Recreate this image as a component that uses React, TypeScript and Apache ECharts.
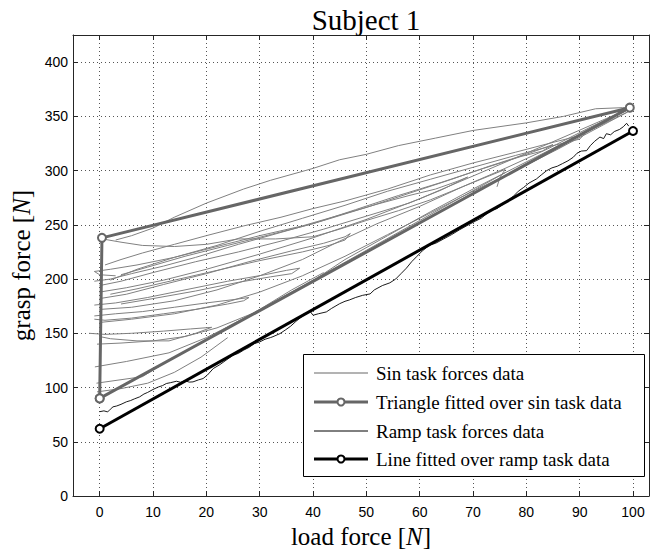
import React, { useEffect, useRef } from "react";
import * as echarts from "echarts";

const xTicks = [0, 10, 20, 30, 40, 50, 60, 70, 80, 90, 100];
const yTicks = [0, 50, 100, 150, 200, 250, 300, 350, 400];

const triangleFit = [[0, 90], [0.43, 238], [99.4, 358], [0, 90]];
const rampFit = [[0, 62], [100, 336.5]];

const rampData = [
  [0, 77.7], [0.8, 78.5], [1.5, 77.5], [2, 80], [2.5, 82.2], [3.2, 83], [4, 84.5], [5, 86.8], [5.8, 88], [6.5, 89.5],
  [7.5, 91.4], [8.3, 94], [9, 95.5], [10, 98.2], [11, 100.5], [11.8, 101.8], [12.5, 103.7], [13.3, 104.5], [14.4, 105.8],
  [15.2, 104.8], [16, 106.2], [16.8, 105], [17.5, 105.2], [18.5, 107], [19.4, 108.3], [20.2, 111.5], [21.3, 117.5],
  [22.5, 121], [23.5, 124.5], [25, 129.8], [26, 131.5], [27, 134.5], [28, 137], [29, 140.5], [30, 142], [31, 144.5],
  [32, 146], [32.5, 146.9], [33.8, 149.7], [34.8, 153], [35.8, 156.5], [36.8, 161], [37.8, 165], [38.8, 168.1],
  [39.5, 170], [40, 166.6], [41, 168], [42.5, 169.7], [43.5, 173], [45, 177.3], [46, 179.5], [46.8, 180.7], [48, 183],
  [49.3, 185], [50.7, 186.3], [51.5, 190], [53, 194], [54.4, 196.5], [55.5, 200], [56.5, 205], [57.5, 210], [58.5, 216],
  [59.5, 221], [60.5, 226], [61.9, 231.4], [63, 233], [64.5, 237], [66, 241], [67.5, 245.5], [69.4, 250.7], [70.5, 253.5],
  [71.5, 256], [72.5, 259.9], [73.5, 263.5], [74.5, 265], [75.5, 268.5], [76.5, 272], [77.5, 276], [78.5, 281],
  [79.5, 284.5], [80.5, 288.5], [81.9, 292.3], [82.8, 296], [83.8, 299.9], [84.8, 302.5], [85.8, 304], [86.8, 306.5],
  [87.8, 309], [88.8, 312.3], [89.5, 316], [90.3, 318], [91.3, 318.4], [92, 323], [92.8, 327], [93.8, 330.9],
  [94.5, 329.5], [95, 334], [95.8, 333], [96.5, 336], [97.5, 338], [98.2, 340.5], [98.8, 343.6], [99.2, 341],
];

const sinTrial01 = [[3, 236], [6, 240], [10, 247], [14, 257], [20, 270], [27, 283], [32, 291], [40, 302], [45, 310], [50, 315], [56, 323], [63, 330], [70, 337], [80, 344], [87, 350], [93, 357], [98, 358], [99.4, 358]];
const sinTrial02 = [[0.5, 237], [4, 234], [8, 231], [14, 230], [20, 232], [26, 237], [33, 237], [40, 239], [45, 246], [50, 254], [56, 263], [62, 273], [68, 285], [73, 295], [76, 301], [75, 293], [74.5, 285]];
const sinTrial03 = [[1, 213], [4, 218], [8, 224], [14, 232], [20, 240], [27, 249], [34, 257], [40, 265], [46, 272], [54, 283], [62, 296], [70, 307], [78, 317], [85, 326], [89, 331], [91, 334], [90, 329], [85, 323], [78, 314], [70, 303], [62, 292], [54, 281], [46, 268], [38, 256], [30, 244], [22, 231], [14, 220], [7, 213], [2, 209], [-1, 207], [0, 204], [3, 203]];
const sinTrial04 = [[-1, 198], [2, 200], [6, 205], [12, 212], [18, 220], [26, 232], [34, 243], [42, 254], [50, 266], [58, 279], [66, 292], [73, 304], [80, 315], [85, 324], [83, 318], [79, 313], [72, 302], [64, 289], [56, 277], [48, 264], [40, 251], [32, 241], [24, 231], [16, 221], [9, 211], [4, 204]];
const sinTrial05 = [[0, 194], [4, 198], [10, 206], [18, 216], [26, 225], [34, 235], [42, 246], [50, 258], [58, 270], [64, 282], [69, 294], [67, 290], [63, 283], [58, 277], [52, 269], [45, 259], [38, 249], [30, 240], [22, 230], [14, 220], [7, 209], [2, 199]];
const sinTrial06 = [[0, 188], [5, 192], [12, 199], [20, 209], [30, 223], [40, 238], [50, 255], [60, 274], [70, 295], [80, 316], [88, 333], [95, 348], [99, 356]];
const sinTrial07 = [[0, 182], [5, 186], [12, 195], [20, 205], [28, 216], [36, 226], [42, 233], [46, 239], [47, 242], [46, 236], [43, 231], [38, 225], [30, 217], [22, 208], [14, 199], [7, 191], [2, 186]];
const sinTrial08 = [[-1, 176], [3, 178], [9, 183], [16, 190], [24, 198], [31, 204], [35, 208], [37.5, 210], [36, 205], [32, 202], [26, 197], [18, 189], [10, 182], [4, 177]];
const sinTrial09 = [[0, 172], [6, 174], [14, 180], [22, 190], [30, 203], [38, 218], [45, 235], [52, 251], [60, 267], [68, 285], [76, 302], [84, 320], [92, 340], [99, 356]];
const sinTrial10 = [[-1, 166], [3, 168], [8, 170], [14, 174], [20, 178], [25, 181], [28, 183], [27, 180], [24, 177], [18, 172], [12, 168], [6, 164], [1, 162], [-1, 163]];
const sinTrial11 = [[0, 160], [6, 163], [14, 168], [22, 176], [30, 188], [38, 203], [46, 221], [54, 241], [62, 261], [70, 281], [78, 300], [86, 320], [94, 341], [99, 354]];
const sinTrial12 = [[-2, 150], [1, 149], [6, 150], [12, 152], [17, 154], [21, 155.5], [18, 150], [13, 143], [7, 143], [2, 145], [0, 147]];
const sinTrial13 = [[-0.5, 140], [4, 141], [10, 143], [16, 147], [22, 155], [30, 171], [38, 192], [46, 218], [54, 240], [62, 262], [70, 283], [78, 303], [86, 323], [94, 342], [99, 354]];
const sinTrial14 = [[-0.9, 119], [5, 124], [13, 132], [20, 146], [28, 166], [36, 188], [44, 210], [52, 232], [60, 254], [68, 276], [76, 298]];
const sinTrial15 = [[-0.6, 104], [8, 110], [13, 125], [18, 138], [24, 156], [30, 172], [36, 190], [42, 206]];
const sinTrial16 = [[-0.5, 96], [4, 99], [9, 104], [14, 114], [19, 128], [24, 146]];

const sinTrials = [
  sinTrial01, sinTrial02, sinTrial03, sinTrial04, sinTrial05, sinTrial06, sinTrial07, sinTrial08,
  sinTrial09, sinTrial10, sinTrial11, sinTrial12, sinTrial13, sinTrial14, sinTrial15, sinTrial16,
];

const legendLabels = [
  "Sin task forces data",
  "Triangle fitted over sin task data",
  "Ramp task forces data",
  "Line fitted over ramp task data",
];

const SERIF = "'Liberation Serif', 'DejaVu Serif', serif";
const SANS = "'Liberation Sans', Arial, sans-serif";

export default function App() {
  const ref = useRef<HTMLDivElement>(null);

  useEffect(() => {
    if (!ref.current) return;
    const chart = echarts.init(ref.current, undefined, { renderer: "svg" });

    const axisColor = "#262626";
    const gridLine = { show: true, lineStyle: { type: [1, 3], color: "#555", width: 1 } };

    const sinSeries = sinTrials.map((d) => ({
      type: "line",
      name: legendLabels[0],
      data: d,
      showSymbol: false,
      symbol: "none",
      silent: true,
      z: 2,
      lineStyle: { color: "#808080", width: 1 },
    }));

    const legendRows = [373, 402, 431, 459];
    const legendStyles = [
      { color: "#9a9a9a", width: 1.5, marker: false },
      { color: "#666666", width: 3, marker: true },
      { color: "#000000", width: 1, marker: false },
      { color: "#000000", width: 3, marker: true },
    ];
    const legendGraphics: any[] = [
      {
        type: "rect",
        shape: { x: 303.5, y: 354.5, width: 341, height: 122 },
        style: { fill: "#fff", stroke: "#000", lineWidth: 1 },
        z: 10,
      },
    ];
    legendRows.forEach((y, i) => {
      const s = legendStyles[i];
      legendGraphics.push({
        type: "line",
        shape: { x1: 314, y1: y, x2: 368, y2: y },
        style: { stroke: s.color, lineWidth: s.width },
        z: 11,
      });
      if (s.marker) {
        legendGraphics.push({
          type: "circle",
          shape: { cx: 341, cy: y, r: 3.5 },
          style: { fill: "#fff", stroke: s.color, lineWidth: 2 },
          z: 12,
        });
      }
      legendGraphics.push({
        type: "text",
        x: 376,
        y: y,
        style: {
          text: legendLabels[i],
          fill: "#000",
          font: `19px ${SERIF}`,
          verticalAlign: "middle",
          align: "left",
        },
        z: 12,
      });
    });

    const option: any = {
      animation: false,
      backgroundColor: "#fff",
      title: {
        text: "Subject 1",
        left: 361,
        top: 0,
        textAlign: "center",
        textStyle: { fontFamily: SERIF, fontSize: 29, fontWeight: "normal", color: "#000" },
      },
      grid: { left: 73, right: 7, top: 35, bottom: 59, containLabel: false },
      xAxis: [
        {
          type: "value",
          min: -5,
          max: 103,
          position: "bottom",
          axisLine: { show: true, onZero: false, lineStyle: { color: axisColor, width: 1 } },
          axisTick: { show: true, inside: true, length: 5, customValues: xTicks, lineStyle: { color: axisColor } },
          axisLabel: { customValues: xTicks, fontFamily: SANS, fontSize: 14, color: "#000", margin: 9 },
          splitLine: gridLine,
          name: "{a|load force [}{b|N}{a|]}",
          nameLocation: "middle",
          nameGap: 28,
          nameTextStyle: {
            rich: {
              a: { fontFamily: SERIF, fontSize: 25, color: "#000" },
              b: { fontFamily: SERIF, fontSize: 25, fontStyle: "italic", color: "#000" },
            },
          },
        },
        {
          type: "value",
          min: -5,
          max: 103,
          position: "top",
          axisLine: { show: true, onZero: false, lineStyle: { color: axisColor, width: 1 } },
          axisTick: { show: true, inside: true, length: 5, customValues: xTicks, lineStyle: { color: axisColor } },
          axisLabel: { show: false },
          splitLine: { show: false },
        },
      ],
      yAxis: [
        {
          type: "value",
          min: 0,
          max: 425,
          position: "left",
          axisLine: { show: true, onZero: false, lineStyle: { color: axisColor, width: 1 } },
          axisTick: { show: true, inside: true, length: 5, customValues: yTicks, lineStyle: { color: axisColor } },
          axisLabel: { customValues: yTicks, fontFamily: SANS, fontSize: 14, color: "#000", margin: 5 },
          splitLine: gridLine,
          name: "{a|grasp force [}{b|N}{a|]}",
          nameLocation: "middle",
          nameRotate: 90,
          nameGap: 39,
          nameTextStyle: {
            rich: {
              a: { fontFamily: SERIF, fontSize: 25, color: "#000" },
              b: { fontFamily: SERIF, fontSize: 25, fontStyle: "italic", color: "#000" },
            },
          },
        },
        {
          type: "value",
          min: 0,
          max: 425,
          position: "right",
          axisLine: { show: true, onZero: false, lineStyle: { color: axisColor, width: 1 } },
          axisTick: { show: true, inside: true, length: 5, customValues: yTicks, lineStyle: { color: axisColor } },
          axisLabel: { show: false },
          splitLine: { show: false },
        },
      ],
      series: [
        ...sinSeries,
        {
          type: "line",
          name: legendLabels[2],
          data: rampData,
          showSymbol: false,
          symbol: "none",
          silent: true,
          z: 3,
          lineStyle: { color: "#000", width: 0.9 },
        },
        {
          type: "line",
          name: legendLabels[1],
          data: triangleFit,
          symbol: "circle",
          symbolSize: 8,
          showSymbol: true,
          silent: true,
          z: 4,
          lineStyle: { color: "#666", width: 3 },
          itemStyle: { color: "#fff", borderColor: "#666", borderWidth: 2 },
        },
        {
          type: "line",
          name: legendLabels[3],
          data: rampFit,
          symbol: "circle",
          symbolSize: 8,
          showSymbol: true,
          silent: true,
          z: 5,
          lineStyle: { color: "#000", width: 3 },
          itemStyle: { color: "#fff", borderColor: "#000", borderWidth: 2 },
        },
      ],
      graphic: legendGraphics,
    };

    chart.setOption(option);
    return () => chart.dispose();
  }, []);

  return (
    <div
      ref={ref}
      style={{ position: "absolute", left: 0, top: 0, width: 656, height: 555 }}
    />
  );
}
